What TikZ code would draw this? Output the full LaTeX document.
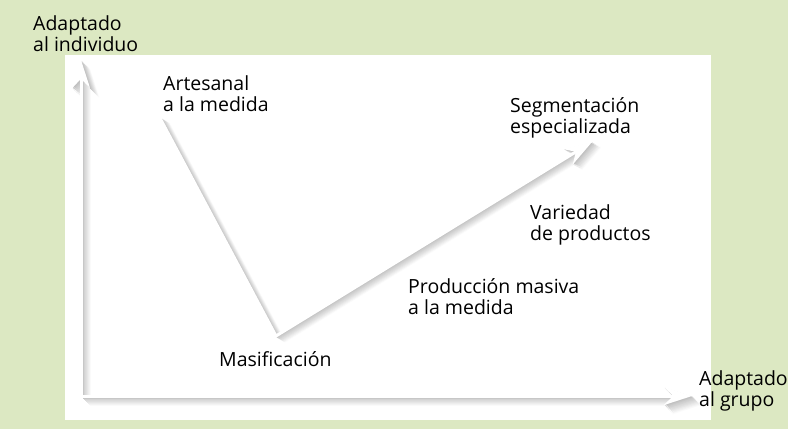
\documentclass[tikz,border=0pt]{standalone}
\usepackage{fontspec}
\setmainfont{Open Sans}
\usetikzlibrary{arrows.meta}
\definecolor{bggreen}{HTML}{DCE8C2}
\definecolor{shade}{HTML}{505050}
\tikzset{
  lbl/.style={anchor=base west, align=left, font=\fontsize{19.5}{21}\selectfont, text=black, inner sep=0pt},
  tip/.style={-{Stealth[length=28pt,width=18pt]}},
  shadowstroke/.style={line width=1.4pt, line join=miter},
  whiteline/.style={draw=white, line width=3pt, line join=miter}
}
\begin{document}
\begin{tikzpicture}[x=1pt,y=-1pt]
\fill[bggreen] (0,0) rectangle (788,429);
\fill[white] (65,55) rectangle (711,420);
\useasboundingbox (0,0) rectangle (788,429);
% coordinates
\coordinate (o) at (81,396);
\coordinate (ytop) at (81,60);
\coordinate (xend) at (692,396);
\coordinate (vstart) at (160,118);
\coordinate (vmid) at (276,336);
\coordinate (vend) at (592,142);
% soft shadows (drawn far to near, opaque tints)
\foreach \k in {10,...,1}{
  \pgfmathsetmacro{\d}{\k*0.9}
  \pgfmathsetmacro{\dv}{\k*0.55}
  \pgfmathtruncatemacro{\pc}{(11-\k)*3.6}
  \draw[shadowstroke,tip,draw=shade!\pc!white] ([shift={(\d,\d)}]o) -- ([shift={(\d,\d)}]ytop);
  \draw[shadowstroke,tip,draw=shade!\pc!white] ([shift={(\d,\d)}]o) -- ([shift={(\d,\d)}]xend);
  \draw[shadowstroke,tip,draw=shade!\pc!white] ([shift={(\d,\dv)}]vstart) -- ([shift={(\d,\dv)}]vmid) -- ([shift={(\d,\dv)}]vend);
}
% white lines
\draw[whiteline,tip] (o) -- (ytop);
\draw[whiteline,tip] (o) -- (xend);
\draw[whiteline,tip] (vstart) -- (vmid) -- (vend);
% labels
\node[lbl] (ly) at (33,51) {Adaptado\\al individuo};
\node[lbl] (la) at (163,111) {Artesanal\\a la medida};
\node[lbl] (ls) at (510,133) {Segmentación\\especializada};
\node[lbl] (lv) at (530,240) {Variedad\\de productos};
\node[lbl] (lp) at (408,314) {Producción masiva\\a la medida};
\node[lbl] (lm) at (219,366) {Masificación};
\node[lbl] (lx) at (699,406) {Adaptado\\al grupo};
\end{tikzpicture}
\end{document}
